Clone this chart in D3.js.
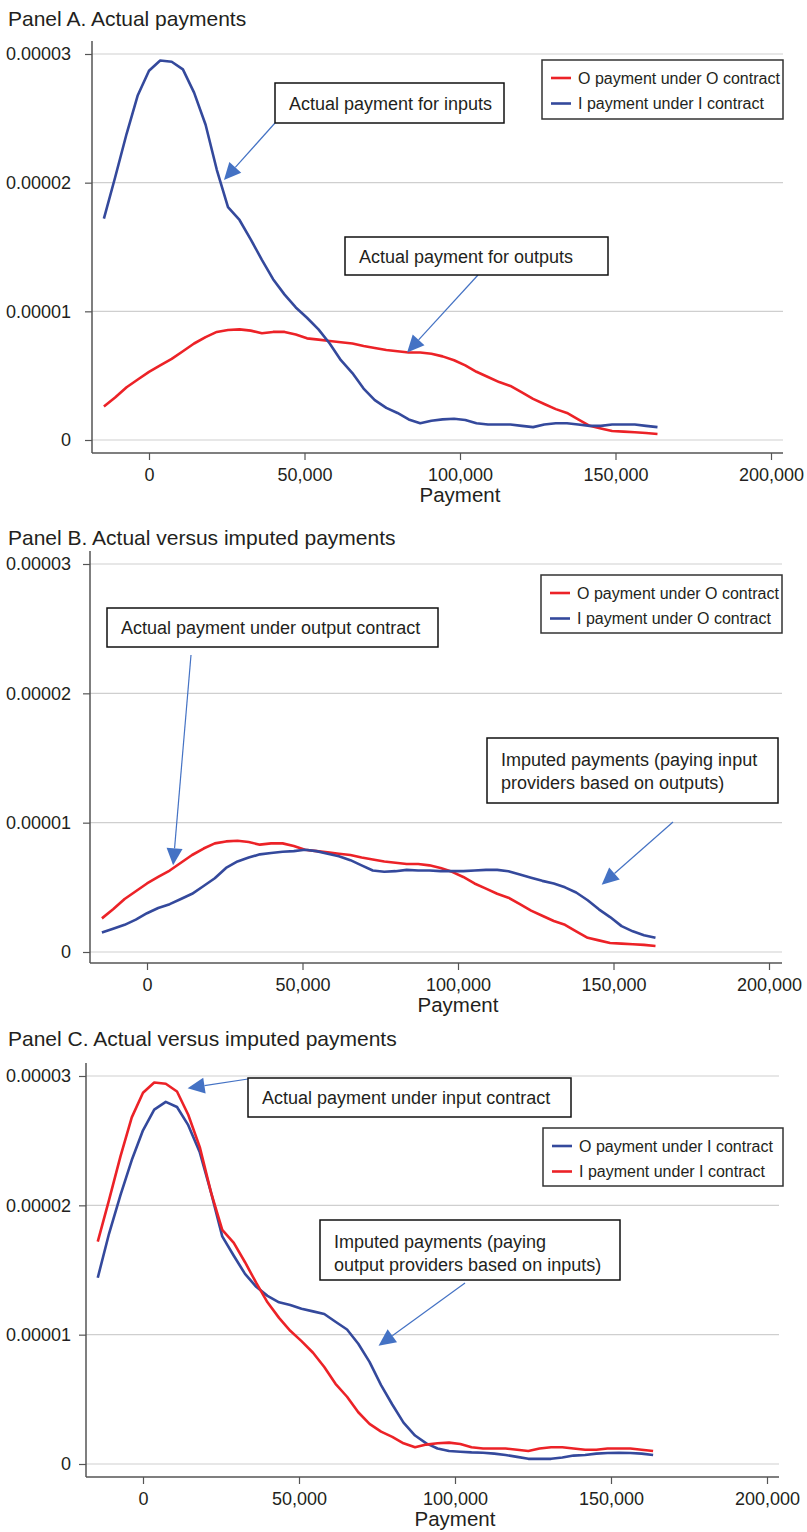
<!DOCTYPE html>
<html>
<head>
<meta charset="utf-8">
<script src="https://cdn.jsdelivr.net/npm/d3@7"></script>
<style>
body { margin: 0; background: #fff; }
svg { display: block; font-family: "Liberation Sans", Arial, Helvetica, sans-serif; }
</style>
</head>
<body>
<div id="chart"></div>
<script>
// kernel density grid (payment)
var payment = [-14500, -10900, -7200, -3600, 0, 3600, 7300, 10900, 14500, 18200,
    21800, 25400, 29100, 32700, 36300, 39900, 43600, 47200, 50800, 54500,
    58100, 61700, 65400, 69000, 72600, 76300, 79900, 83500, 87200, 90800,
    94400, 98100, 101700, 105300, 109000, 112600, 116200, 119900, 123500, 127100,
    130800, 134400, 138000, 141700, 145300, 148900, 152600, 156200, 159800, 163500];

// densities, in units of 1e-5
var oUnderO = [0.26, 0.33, 0.41, 0.47, 0.53, 0.58, 0.63, 0.69, 0.75, 0.80,
    0.84, 0.855, 0.86, 0.85, 0.83, 0.84, 0.84, 0.82, 0.79, 0.78,
    0.77, 0.76, 0.75, 0.73, 0.715, 0.70, 0.69, 0.68, 0.68, 0.67,
    0.65, 0.62, 0.58, 0.53, 0.49, 0.45, 0.42, 0.37, 0.32, 0.28,
    0.24, 0.21, 0.16, 0.11, 0.09, 0.07, 0.065, 0.06, 0.055, 0.047];
var iUnderI = [1.72, 2.04, 2.38, 2.68, 2.87, 2.95, 2.94, 2.88, 2.70, 2.45,
    2.10, 1.81, 1.71, 1.56, 1.40, 1.25, 1.13, 1.03, 0.95, 0.86,
    0.75, 0.62, 0.52, 0.40, 0.31, 0.25, 0.21, 0.16, 0.13, 0.15,
    0.16, 0.165, 0.155, 0.13, 0.12, 0.12, 0.12, 0.11, 0.10, 0.12,
    0.13, 0.13, 0.12, 0.11, 0.11, 0.12, 0.12, 0.12, 0.11, 0.10];
var iUnderO = [0.15, 0.18, 0.21, 0.25, 0.30, 0.34, 0.37, 0.41, 0.45, 0.51,
    0.57, 0.65, 0.70, 0.73, 0.755, 0.765, 0.775, 0.78, 0.79, 0.78,
    0.76, 0.74, 0.71, 0.67, 0.63, 0.62, 0.625, 0.635, 0.63, 0.63,
    0.625, 0.625, 0.625, 0.63, 0.635, 0.635, 0.625, 0.60, 0.575, 0.55,
    0.53, 0.50, 0.46, 0.40, 0.33, 0.27, 0.20, 0.16, 0.13, 0.11];
var oUnderI = [1.44, 1.78, 2.08, 2.35, 2.58, 2.74, 2.80, 2.76, 2.62, 2.41,
    2.10, 1.76, 1.61, 1.47, 1.37, 1.30, 1.25, 1.23, 1.20, 1.18,
    1.16, 1.10, 1.04, 0.93, 0.79, 0.61, 0.46, 0.32, 0.22, 0.16,
    0.12, 0.10, 0.095, 0.09, 0.087, 0.08, 0.07, 0.055, 0.04, 0.04,
    0.04, 0.05, 0.065, 0.07, 0.08, 0.085, 0.087, 0.085, 0.08, 0.07];

var yTicks = [0, 1, 2, 3];
var yTickLabels = ["0", "0.00001", "0.00002", "0.00003"];
var xTicks = [0, 50000, 100000, 150000, 200000];

var RED = "#ec2227";
var BLUE = "#34499c";
var ARROW = "#4472c4";
var TEXT = "#231f20";

var panels = [
    {
        title: "Panel A. Actual payments",
        box: {top: 54, bottom: 440, x0: 149, x200: 771, left: 92, right: 783, axisY: 453, titleY: 26},
        series: [
            {values: oUnderO, color: RED, label: "O payment under O contract"},
            {values: iUnderI, color: BLUE, label: "I payment under I contract"}
        ],
        legend: {x: 542, y: 60, w: 241, h: 59},
        notes: [
            {lines: ["Actual payment for inputs"], x: 275, y: 83, w: 229, h: 40, from: [275, 123], tip: [24100, 2.02]},
            {lines: ["Actual payment for outputs"], x: 345, y: 237, w: 263, h: 38, from: [478, 275], tip: [83000, 0.68]}
        ]
    },
    {
        title: "Panel B. Actual versus imputed payments",
        box: {top: 564, bottom: 952, x0: 147, x200: 769, left: 90, right: 782, axisY: 963, titleY: 545},
        series: [
            {values: oUnderO, color: RED, label: "O payment under O contract"},
            {values: iUnderO, color: BLUE, label: "I payment under O contract"}
        ],
        legend: {x: 541, y: 575, w: 241, h: 58},
        notes: [
            {lines: ["Actual payment under output contract"], x: 107, y: 608, w: 331, h: 39, from: [191, 655], tip: [8400, 0.67]},
            {lines: ["Imputed payments (paying input", "providers based on outputs)"], x: 487, y: 738, w: 291, h: 65, from: [673, 822], tip: [146200, 0.52]}
        ]
    },
    {
        title: "Panel C. Actual versus imputed payments",
        box: {top: 1076, bottom: 1464, x0: 143, x200: 767, left: 86, right: 779, axisY: 1477, titleY: 1046},
        series: [
            {values: oUnderI, color: BLUE, label: "O payment under I contract"},
            {values: iUnderI, color: RED, label: "I payment under I contract"}
        ],
        legend: {x: 543, y: 1128, w: 240, h: 58},
        notes: [
            {lines: ["Actual payment under input contract"], x: 248, y: 1078, w: 323, h: 39, from: [248, 1079], tip: [14300, 2.906]},
            {lines: ["Imputed payments (paying", "output providers based on inputs)"], x: 320, y: 1220, w: 300, h: 60, from: [465, 1283], tip: [75500, 0.915]}
        ]
    }
];

var svg = d3.select("#chart").append("svg")
    .attr("width", 807)
    .attr("height", 1532);

function drawArrow(g, x1, y1, x2, y2)
{
    var dx = x2 - x1, dy = y2 - y1;
    var len = Math.sqrt(dx * dx + dy * dy);
    var ux = dx / len, uy = dy / len;
    var headLen = 17, headHalf = 8;
    var bx = x2 - ux * headLen, by = y2 - uy * headLen;
    g.append("line")
        .attr("x1", x1).attr("y1", y1)
        .attr("x2", bx).attr("y2", by)
        .attr("stroke", ARROW)
        .attr("stroke-width", 1.2);
    var pts = [
        [x2, y2],
        [bx - uy * headHalf, by + ux * headHalf],
        [bx + uy * headHalf, by - ux * headHalf]
    ];
    g.append("polygon")
        .attr("points", pts.map(function (p) { return p.join(","); }).join(" "))
        .attr("fill", ARROW);
}

function drawPanel(p)
{
    var b = p.box;
    var g = svg.append("g");
    var x = d3.scaleLinear().domain([0, 200000]).range([b.x0, b.x200]);
    var y = d3.scaleLinear().domain([0, 3]).range([b.bottom, b.top]);

    g.append("text")
        .attr("x", 8)
        .attr("y", b.titleY)
        .attr("font-size", 21)
        .attr("fill", TEXT)
        .text(p.title);

    // grid lines
    g.selectAll("line.grid")
        .data(yTicks)
        .enter()
        .append("line")
        .attr("class", "grid")
        .attr("x1", b.left)
        .attr("x2", b.right)
        .attr("y1", function (d) { return y(d); })
        .attr("y2", function (d) { return y(d); })
        .attr("stroke", "#cfcfcf")
        .attr("stroke-width", 1.2);

    // y axis, labels end at x = 71 in every panel
    var yAxis = d3.axisLeft(y)
        .tickValues(yTicks)
        .tickSize(7)
        .tickPadding(b.left - 78)
        .tickFormat(function (d, i) { return yTickLabels[i]; });
    var ya = g.append("g")
        .attr("transform", "translate(" + b.left + ",0)")
        .call(yAxis);
    ya.select(".domain").remove();
    ya.append("line")
        .attr("x1", 0).attr("x2", 0)
        .attr("y1", b.top - 13)
        .attr("y2", b.axisY)
        .attr("stroke", "#555")
        .attr("stroke-width", 1.5);

    // x axis
    var xAxis = d3.axisBottom(x)
        .tickValues(xTicks)
        .tickSize(7)
        .tickPadding(8)
        .tickFormat(d3.format(","));
    var xa = g.append("g")
        .attr("transform", "translate(0," + b.axisY + ")")
        .call(xAxis);
    xa.select(".domain").remove();
    xa.append("line")
        .attr("x1", b.left).attr("x2", b.right)
        .attr("y1", 0).attr("y2", 0)
        .attr("stroke", "#555")
        .attr("stroke-width", 1.5);

    g.selectAll(".tick line").attr("stroke", "#555").attr("stroke-width", 1.2);
    g.selectAll(".tick text")
        .attr("font-size", 18)
        .attr("font-family", "Liberation Sans, Arial, sans-serif")
        .attr("fill", TEXT);

    g.append("text")
        .attr("x", (b.x0 + b.x200) / 2)
        .attr("y", b.axisY + 49)
        .attr("text-anchor", "middle")
        .attr("font-size", 20.5)
        .attr("fill", TEXT)
        .text("Payment");

    // density lines
    var line = d3.line()
        .x(function (d, i) { return x(payment[i]); })
        .y(function (d) { return y(d); });
    p.series.forEach(function (s) {
        g.append("path")
            .datum(s.values)
            .attr("d", line)
            .attr("fill", "none")
            .attr("stroke", s.color)
            .attr("stroke-width", 2.6)
            .attr("stroke-linejoin", "round");
    });

    // annotations
    p.notes.forEach(function (n) {
        drawArrow(g, n.from[0], n.from[1], x(n.tip[0]), y(n.tip[1]));
        g.append("rect")
            .attr("x", n.x).attr("y", n.y)
            .attr("width", n.w).attr("height", n.h)
            .attr("fill", "#fff")
            .attr("stroke", "#111")
            .attr("stroke-width", 1.5);
        n.lines.forEach(function (t, i) {
            g.append("text")
                .attr("x", n.x + 14)
                .attr("y", n.lines.length == 1 ? n.y + n.h / 2 + 6.5 : n.y + 28 + i * 23)
                .attr("font-size", 18)
                .attr("fill", TEXT)
                .text(t);
        });
    });

    // legend
    var L = p.legend;
    var lg = g.append("g");
    lg.append("rect")
        .attr("x", L.x).attr("y", L.y)
        .attr("width", L.w).attr("height", L.h)
        .attr("fill", "#fff")
        .attr("stroke", "#333")
        .attr("stroke-width", 1.5);
    p.series.forEach(function (s, i) {
        var ly = L.y + 18 + i * 25.5;
        lg.append("line")
            .attr("x1", L.x + 9).attr("x2", L.x + 29)
            .attr("y1", ly).attr("y2", ly)
            .attr("stroke", s.color)
            .attr("stroke-width", 2.6);
        lg.append("text")
            .attr("x", L.x + 36)
            .attr("y", ly + 5.5)
            .attr("font-size", 16)
            .attr("fill", TEXT)
            .text(s.label);
    });
}

for (var i in panels) {
    drawPanel(panels[i]);
}
</script>
</body>
</html>
